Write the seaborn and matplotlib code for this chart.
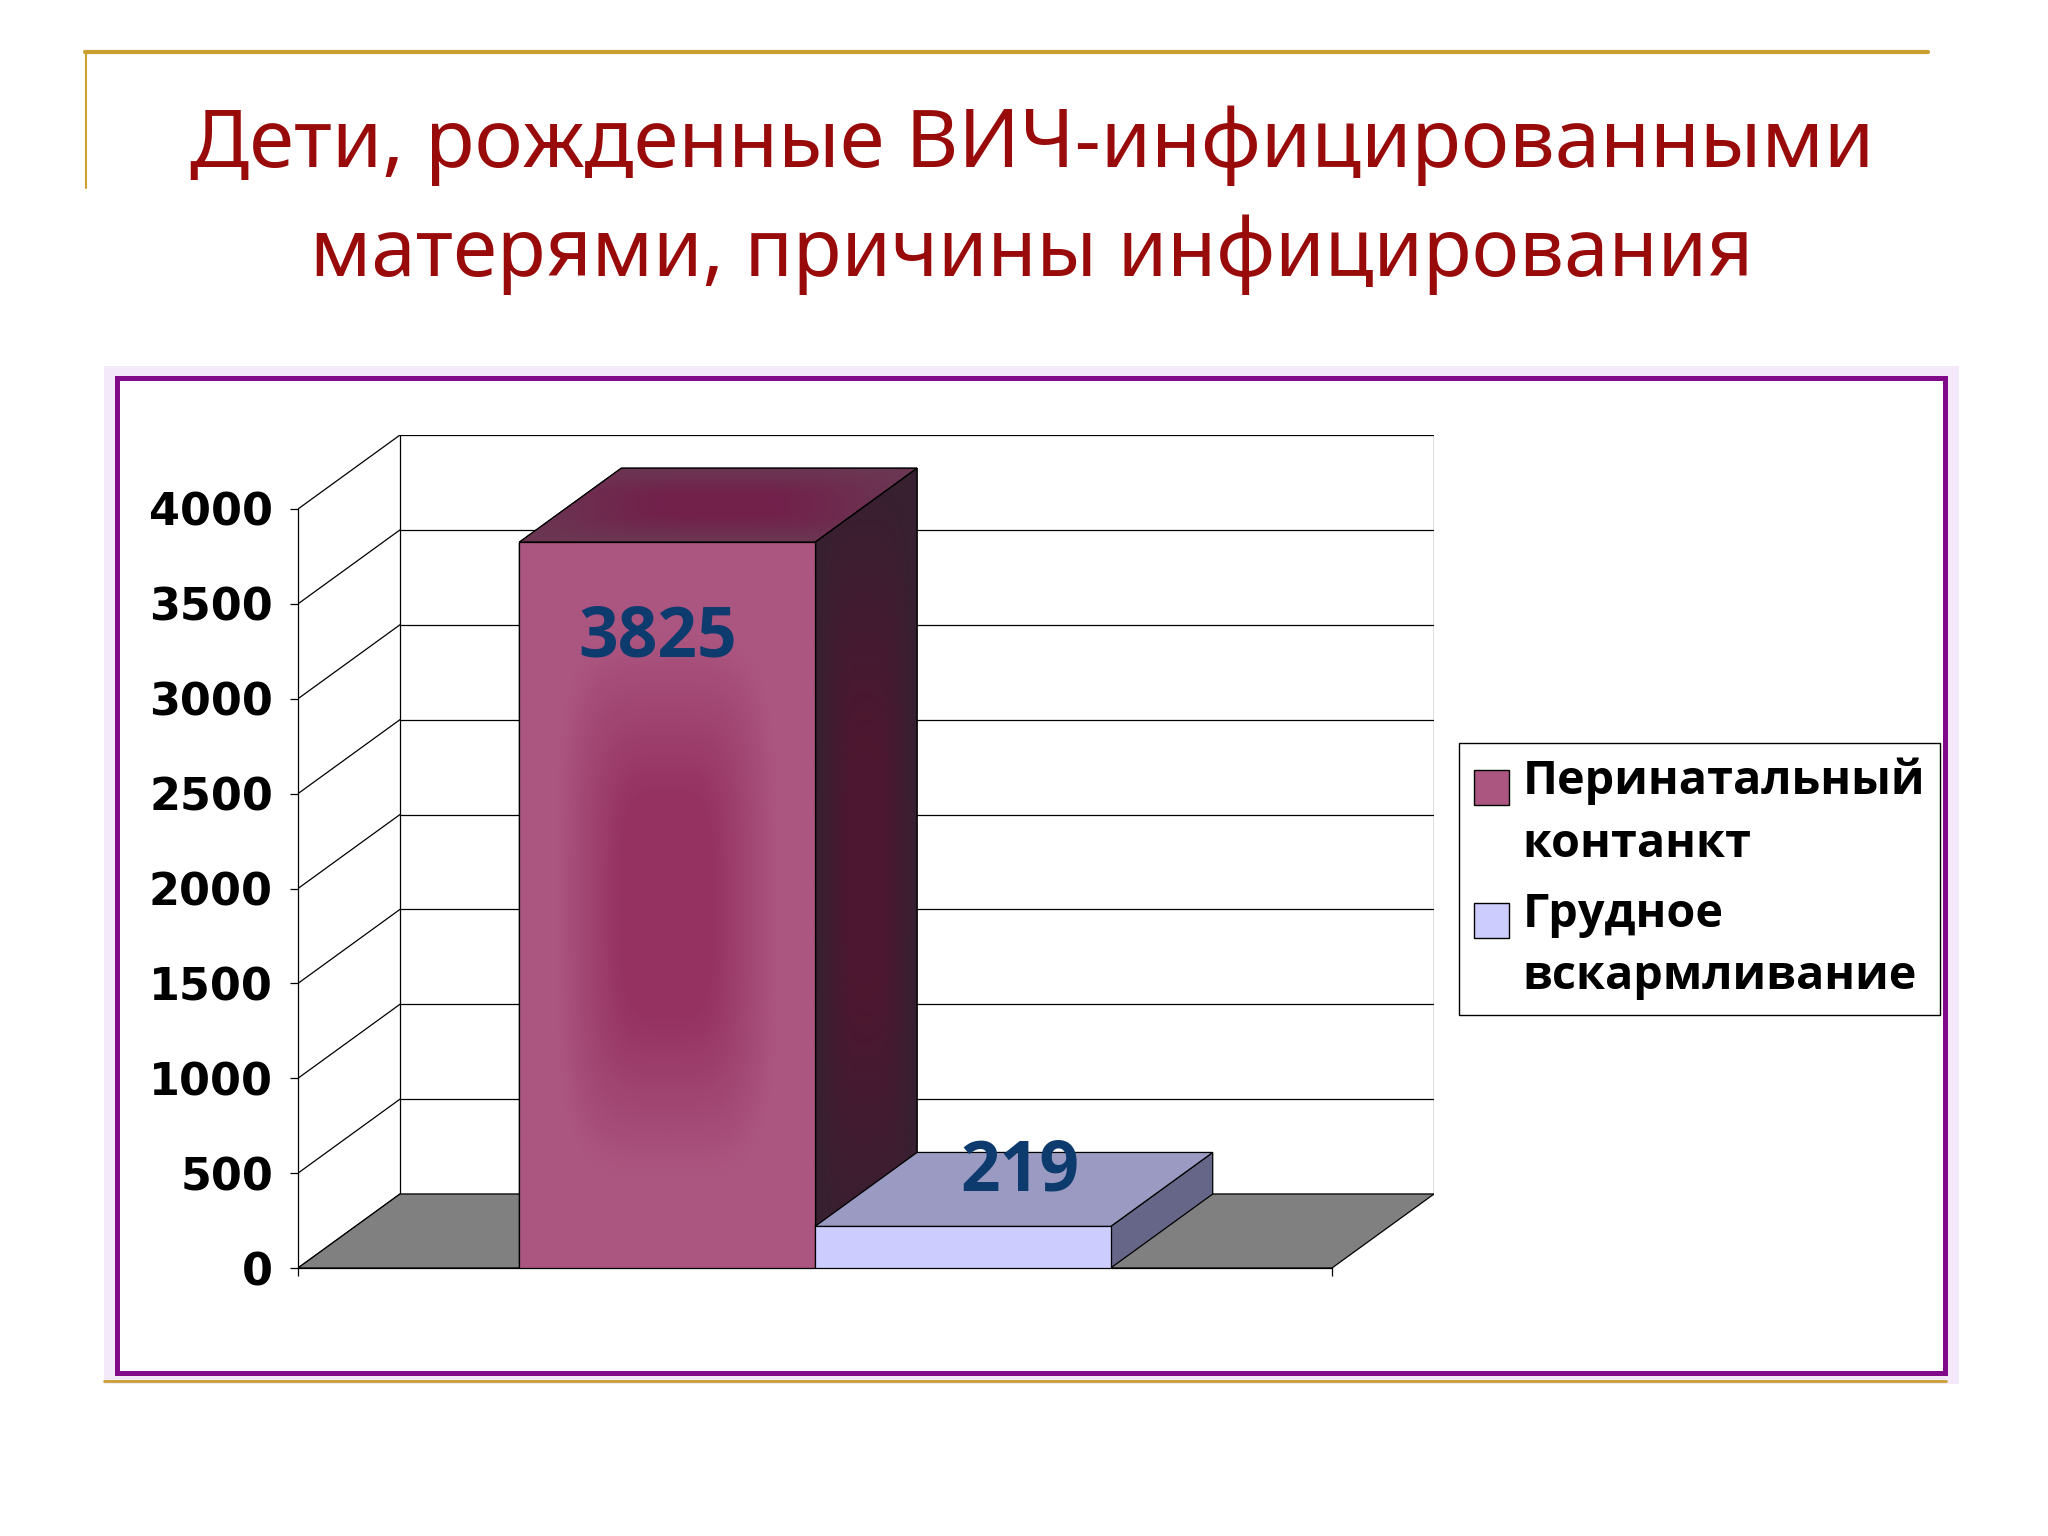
'''Children born to HIV-infected mothers: causes of infection (pseudo-3D bar chart)'''

import numpy as np
import pandas as pd
import matplotlib
matplotlib.use('Agg')
import matplotlib.pyplot as plt
import seaborn as sns
from matplotlib.patches import Polygon, Rectangle, Patch
from matplotlib.lines import Line2D
from matplotlib.colors import LinearSegmentedColormap
from matplotlib.legend_handler import HandlerPatch

#********************************************* Data *********************************************

title_lines = ['Дети, рожденные ВИЧ-инфицированными', 'матерями, причины инфицирования']
series = ['Перинатальный\nконтанкт', 'Грудное\nвскармливание']
values = [3825, 219]
group = ['', '']
y_ticks = [0, 500, 1000, 1500, 2000, 2500, 3000, 3500, 4000]

#********************************************* Style ********************************************

front_colors = ['#ab5680', '#ccccff']
front_mid = ['#953262', None]
top_colors = ['#6b3652', '#9a9ac2']
top_mid = ['#72214b', None]
side_colors = ['#382030', '#666688']
side_mid = ['#4e1731', None]
label_color = '#0d3b6e'
title_color = '#990a0a'
gold = '#c9a030'
BOLD_FONT = ['Open Sans', 'DejaVu Sans']

sns.set_theme(style='white')
plt.rcParams['font.family'] = ['Noto Sans', 'DejaVu Sans']

W, H = 2048, 1536


def fx(px):
    return px / W


def fy(py):
    return 1 - py / H


# pixel geometry of the 3D box
AX_L, AX_B = 298, 1268      # front-plane origin
CAT_W = 1034                # px for one category
Y_H = 759                   # px for 0..4000
DX, DY = 102, 74            # depth offset in px
YMAX = 4000

fig = plt.figure(figsize=(W / 100, H / 100), dpi=100)
fig.patch.set_facecolor('white')

#********************************************* Slide decor ***************************************

fig.add_artist(Rectangle((fx(104), fy(1384)), fx(1959) - fx(104), fy(366) - fy(1384),
                         transform=fig.transFigure, fc='#f4e9fb', ec='none', zorder=-3))
fig.add_artist(Rectangle((fx(117), fy(1373)), fx(1945) - fx(117), fy(378) - fy(1373),
                         transform=fig.transFigure, fc='white', ec='#800a88', lw=3.6, zorder=-2))
fig.add_artist(Line2D([fx(85), fx(1928)], [fy(52), fy(52)], transform=fig.transFigure,
                      color=gold, lw=3, zorder=-1))
fig.add_artist(Line2D([fx(86), fx(86)], [fy(52), fy(188)], transform=fig.transFigure,
                      color=gold, lw=1.5, zorder=-1))
fig.add_artist(Line2D([fx(104), fx(1946)], [fy(1381), fy(1381)], transform=fig.transFigure,
                      color=gold, lw=2, zorder=-1))

fig.text(fx(1032), fy(146), title_lines[0], ha='center', va='center',
         fontsize=58.5, color=title_color, family=['Noto Sans', 'DejaVu Sans'])
fig.text(fx(1032), fy(255), title_lines[1], ha='center', va='center',
         fontsize=57.5, color=title_color, family=['Noto Sans', 'DejaVu Sans'])

#********************************************* Chart ********************************************

ax = fig.add_axes([fx(AX_L), fy(AX_B), (CAT_W + DX) / W, (Y_H + DY) / H])
ax.set_facecolor('none')

df = pd.DataFrame({'group': group, 'series': series, 'value': values})
sns.barplot(data=df, x='group', y='value', hue='series', hue_order=series,
            palette=front_colors, saturation=1, width=0.572, ax=ax, legend=False,
            edgecolor='black', linewidth=0.9)

ddx = DX / CAT_W
ddy = DY / Y_H * YMAX
ax.set_xlim(-0.5, 0.5 + ddx)
ax.set_ylim(0, YMAX + ddy)


def shaded(verts, c_edge, c_mid, z, core=0.72, soft=0.42):
    '''polygon face with optional soft gradient toward the middle'''
    poly = Polygon(verts, closed=True, fc=c_edge, ec='black', lw=0.9, zorder=z)
    ax.add_patch(poly)
    if c_mid is None:
        return
    xs, ys = zip(*verts)
    u = np.linspace(-1, 1, 240)
    U, V = np.meshgrid(u, u)
    r = (np.abs(U) ** 4 + np.abs(V) ** 4) ** 0.25
    w = np.clip((core - r) / soft, 0, 1)
    cmap = LinearSegmentedColormap.from_list('grad', [c_edge, c_mid])
    im = ax.imshow(w, cmap=cmap, extent=(min(xs), max(xs), min(ys), max(ys)),
                   origin='lower', aspect='auto', interpolation='bilinear', zorder=z + 0.1)
    im.set_clip_path(poly)
    ax.add_patch(Polygon(verts, closed=True, fc='none', ec='black', lw=0.9, zorder=z + 0.2))


# back wall + side wall grid
for t in y_ticks:
    ax.plot([-0.5, -0.5 + ddx], [t, t + ddy], color='black', lw=0.9, zorder=1)
    ax.plot([-0.5 + ddx, 0.5 + ddx], [t + ddy, t + ddy], color='black', lw=0.9, zorder=1)
for xb in [-0.5 + ddx, 0.5 + ddx]:
    ax.plot([xb, xb], [ddy, YMAX + ddy], color='black', lw=0.9, zorder=1)

# floor
ax.add_patch(Polygon([(-0.5, 0), (0.5, 0), (0.5 + ddx, ddy), (-0.5 + ddx, ddy)],
                     closed=True, fc='#808080', ec='black', lw=0.9, zorder=1.5))

# bars: side and top faces plus shading
bars = sorted(ax.patches[:len(values)], key=lambda b: b.get_x())
for i, bar in enumerate(bars):
    x0, w, h = bar.get_x(), bar.get_width(), bar.get_height()
    z = 3 + 3 * i
    shaded([(x0 + w, 0), (x0 + w + ddx, ddy), (x0 + w + ddx, h + ddy), (x0 + w, h)],
           side_colors[i], side_mid[i], z, core=0.95, soft=0.65)
    shaded([(x0, h), (x0 + w, h), (x0 + w + ddx, h + ddy), (x0 + ddx, h + ddy)],
           top_colors[i], top_mid[i], z, core=0.95, soft=0.65)
    bar.set_zorder(z + 1)
    if front_mid[i] is not None:
        shaded([(x0, 0), (x0 + w, 0), (x0 + w, h), (x0, h)], front_colors[i], front_mid[i],
               z + 1.1, core=0.75, soft=0.45)

# value labels
label_offsets = [(-10, -96), (57, 54)]
for bar, v, off in zip(bars, values, label_offsets):
    ax.annotate(str(v), (bar.get_x() + bar.get_width() / 2, v), xytext=off,
                textcoords='offset pixels', ha='center', va='center',
                fontsize=50, fontweight='bold', color=label_color, zorder=20,
                family=BOLD_FONT)

# axes
for s in ['top', 'right']:
    ax.spines[s].set_visible(False)
ax.spines['left'].set_bounds(0, YMAX)
ax.spines['bottom'].set_bounds(-0.5, 0.5)
for s in ['left', 'bottom']:
    ax.spines[s].set_color('black')
    ax.spines[s].set_linewidth(0.9)
    ax.spines[s].set_zorder(2)
ax.set_yticks(y_ticks)
ax.set_yticklabels([str(t) for t in y_ticks], fontsize=32, fontweight='bold',
                   family='DejaVu Sans', color='black')
ax.set_xticks([-0.5, 0.5])
ax.set_xticklabels(['', ''])
ax.tick_params(axis='both', direction='out', length=6, width=0.9, color='black',
               left=True, bottom=True, pad=12)
ax.set_xlabel('')
ax.set_ylabel('')
ax.grid(False)


class TopSquare(HandlerPatch):
    def create_artists(self, legend, orig_handle, xdescent, ydescent, width, height,
                       fontsize, trans):
        s = 0.74 * fontsize
        p = Rectangle((-xdescent, -ydescent + height - s + 0.02 * fontsize), s, s,
                      fc=orig_handle.get_facecolor(), ec='black', lw=1, transform=trans)
        return [p]


handles = [Patch(fc=c, ec='black') for c in front_colors]
leg = ax.legend(handles, series, loc='upper left', bbox_to_anchor=(fx(1459), fy(743)),
                bbox_transform=fig.transFigure, frameon=True, fancybox=False,
                edgecolor='black', facecolor='white', framealpha=1,
                prop={'family': BOLD_FONT, 'weight': 'bold', 'size': 33.7},
                handlelength=0.74, handleheight=2.6, handletextpad=0.3,
                labelspacing=0.5, borderpad=0.32, borderaxespad=0,
                handler_map={Patch: TopSquare()})
for t in leg.get_texts():
    t.set_color('black')
    t.set_linespacing(1.42)
leg.get_frame().set_linewidth(1)
leg.set_zorder(30)

fig.savefig('out.png', dpi=100, facecolor='white')
